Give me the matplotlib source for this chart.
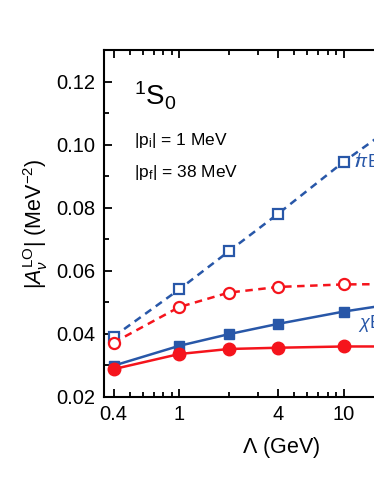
#!/usr/bin/env python3
"""|A_nu^LO| versus cutoff Lambda, 1S0 channel."""
import matplotlib
matplotlib.use("Agg")
import matplotlib.pyplot as plt  # noqa: E402

plt.rcParams["font.family"] = ["Liberation Sans", "DejaVu Sans"]
plt.rcParams["mathtext.fontset"] = "custom"
plt.rcParams["mathtext.rm"] = "Liberation Sans"
plt.rcParams["mathtext.it"] = "Liberation Sans:italic"
plt.rcParams["mathtext.bf"] = "Liberation Sans:bold"

BLUE = "#2857a8"
RED = "#f5141c"

lam = [0.4, 1, 2, 4, 10, 20]
pionless_blue = [0.0391, 0.0541, 0.0662, 0.0782, 0.0947, 0.106]
pionless_red = [0.0372, 0.0485, 0.0531, 0.0549, 0.0557, 0.0558]
chiral_blue = [0.0299, 0.0362, 0.0399, 0.0432, 0.0471, 0.0495]
chiral_red = [0.0288, 0.0336, 0.0352, 0.0356, 0.0360, 0.0360]

xticks = [0.4, 1, 4, 10]
xticklabels = ["0.4", "1", "4", "10"]
yticks = [0.02, 0.04, 0.06, 0.08, 0.10, 0.12]


def main():
    fig = plt.figure(figsize=(3.74, 4.84), dpi=100)
    # axes run past the right edge of the figure, as in the reference crop
    ax = fig.add_axes([0.278, 0.18, 0.95, 0.716])

    ax.plot(lam, pionless_blue, ls="--", color=BLUE, lw=1.8, marker="s",
            ms=7, mfc="white", mec=BLUE, mew=1.6, dashes=(3, 2.2))
    ax.plot(lam, pionless_red, ls="--", color=RED, lw=1.8, marker="o",
            ms=8, mfc="white", mec=RED, mew=1.6, dashes=(3, 2.2))
    ax.plot(lam, chiral_blue, ls="-", color=BLUE, lw=1.8, marker="s",
            ms=7.5, mfc=BLUE, mec=BLUE)
    ax.plot(lam, chiral_red, ls="-", color=RED, lw=1.8, marker="o",
            ms=9, mfc=RED, mec=RED)

    ax.set_xscale("log")
    ax.set_xlim(0.35, 50)
    ax.set_ylim(0.02, 0.13)
    ax.set_xticks(xticks)
    ax.set_xticklabels(xticklabels)
    ax.set_yticks(yticks)
    ax.set_yticks([0.03, 0.05, 0.07, 0.09, 0.11, 0.13], minor=True)
    ax.set_yticklabels([f"{v:.2f}" for v in yticks])

    ax.tick_params(which="both", direction="in", top=True, right=True,
                   width=1.3, labelsize=14.5)
    ax.tick_params(which="major", length=6, pad=6)
    ax.tick_params(which="minor", length=3.5)
    for s in ax.spines.values():
        s.set_linewidth(1.5)

    ax.set_xlabel(r"$\Lambda$ (GeV)", fontsize=15.5, labelpad=8)
    ax.set_ylabel(r"$|A_{\nu}^{\rm LO}|$ (MeV$^{-2}$)", fontsize=15.5,
                  labelpad=5)

    ax.text(0.53, 0.1155, r"$^{1}$S$_{0}$", fontsize=20, va="center")
    ax.text(0.53, 0.1015, r"|p$_{\rm i}$| = 1 MeV", fontsize=12.5,
            va="center")
    ax.text(0.53, 0.0913, r"|p$_{\rm f}$| = 38 MeV", fontsize=12.5,
            va="center")

    # curve labels, mostly cut off by the right edge
    ax.text(11.6, 0.0945, r"$\not\!\pi$EFT", color=BLUE, fontsize=13,
            va="center")
    ax.text(12.2, 0.0432, r"$\chi$EFT", color=BLUE, fontsize=13,
            va="center")
    ax.text(15.5, 0.0625, r"$\not\!\pi$EFT", color=RED, fontsize=13,
            va="center")
    ax.text(15.5, 0.0215, r"$\chi$EFT", color=RED, fontsize=13,
            va="center")

    fig.savefig("out.png", dpi=100)
    plt.close(fig)


if __name__ == "__main__":
    main()
